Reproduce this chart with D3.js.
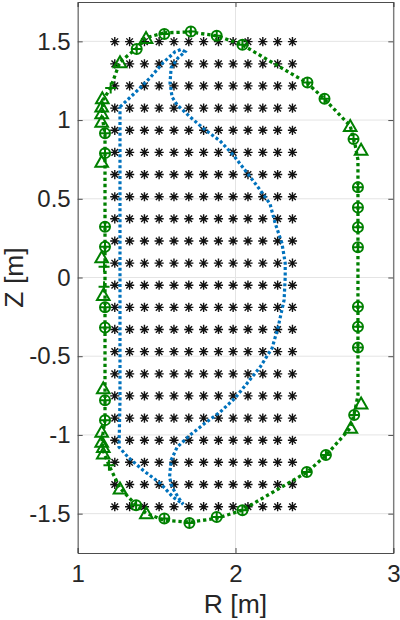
<!DOCTYPE html>
<html>
<head>
<meta charset="utf-8">
<script src="https://cdn.jsdelivr.net/npm/d3@7"></script>
<style>
body { margin: 0; background: #fff; }
svg text { font-family: "Liberation Sans", Arial, Helvetica, sans-serif; fill: #262626; }
</style>
</head>
<body>
<svg id="chart" width="400" height="620"></svg>
<script>
// grid of reconstruction points (R, Z)
var gridR = [1.235, 1.329, 1.423, 1.516, 1.610, 1.704, 1.798, 1.892, 1.985, 2.079, 2.173, 2.267, 2.361];
var gridZ = [1.498, 1.357, 1.217, 1.076, 0.935, 0.795, 0.654, 0.513, 0.373, 0.232, 0.091,
             -0.049, -0.190, -0.330, -0.471, -0.612, -0.752, -0.893, -1.034, -1.174, -1.315, -1.456];

// first wall contour
var wallR = [1.547, 1.712, 1.883, 2.042, 2.454, 2.562, 2.727, 2.758, 2.776, 2.776, 2.758, 2.727, 2.575, 2.454,
             2.042, 1.883, 1.712, 1.547, 1.433, 1.370, 1.268, 1.198, 1.160, 1.154, 1.173, 1.173, 1.154, 1.160,
             1.205, 1.268, 1.370, 1.433, 1.547];
var wallZ = [1.554, 1.560, 1.535, 1.478, 1.236, 1.135, 0.963, 0.842, 0.747, -0.747, -0.842, -0.957, -1.128, -1.236,
             -1.478, -1.529, -1.554, -1.542, -1.497, -1.446, -1.338, -1.192, -1.097, -1.033, -0.906, 0.906, 1.033, 1.128,
             1.198, 1.370, 1.453, 1.523, 1.554];

// plasma boundary
var lcfsR = [1.268, 1.363, 1.458, 1.541, 1.617, 1.655, 1.680, 1.636, 1.592, 1.585, 1.598, 1.630, 1.712, 1.807,
             1.902, 1.985, 2.074, 2.156, 2.219, 2.251, 2.294, 2.315, 2.315, 2.308, 2.270, 2.232, 2.156, 2.074,
             1.997, 1.902, 1.807, 1.712, 1.630, 1.592, 1.582, 1.598, 1.636, 1.668, 1.604, 1.522, 1.414, 1.319,
             1.262, 1.268, 1.268];
var lcfsZ = [1.084, 1.173, 1.268, 1.364, 1.434, 1.449, 1.434, 1.395, 1.332, 1.236, 1.147, 1.097, 1.020, 0.938,
             0.868, 0.779, 0.664, 0.556, 0.467, 0.346, 0.219, 0.092, 0.003, -0.143, -0.315, -0.448, -0.569, -0.671,
             -0.766, -0.855, -0.925, -1.001, -1.078, -1.160, -1.268, -1.332, -1.395, -1.440, -1.395, -1.306, -1.224, -1.141,
             -1.078, -0.779, 1.084];

// flux loops
var loopR = [1.374, 1.549, 1.717, 1.881, 2.044, 2.456, 2.564, 2.748, 2.776, 2.776, 2.776, 2.776, 2.776, 2.776,
             2.776, 2.752, 2.573, 2.452, 2.044, 1.881, 1.708, 1.549, 1.370,
             1.173, 1.173, 1.173, 1.173, 1.173, 1.173, 1.173, 1.173];
var loopZ = [1.451, 1.546, 1.563, 1.535, 1.478, 1.238, 1.135, 0.879, 0.573, 0.444, 0.319, 0.192, -0.186, -0.313,
             -0.444, -0.874, -1.128, -1.235, -1.478, -1.521, -1.559, -1.531, -1.446,
             0.917, 0.790, 0.323, 0.196, -0.189, -0.317, -0.779, -0.906];

// magnetic probes
var probeR = [1.433, 1.268, 1.156, 1.152, 1.152, 1.152, 1.152, 1.152, 1.162, 1.162, 1.152, 1.152, 1.162, 1.162,
              1.268, 1.435, 2.727, 2.796, 2.796, 2.731];
var probeZ = [1.521, 1.367, 1.139, 1.086, 1.044, 0.990, 0.736, 0.128, -0.111, -0.704, -0.980, -1.044, -1.076, -1.118,
              -1.340, -1.497, 0.963, 0.811, -0.800, -0.955];

// saddle coils
var saddleR = [1.209, 1.167, 1.167, 1.198];
var saddleZ = [1.203, 0.069, -0.058, -1.192];

var xTicks = [1, 2, 3];
var yTicks = [-1.5, -1, -0.5, 0, 0.5, 1, 1.5];

var green = '#008000', blue = '#0072BD', axisColor = '#4d4d4d';

var svg = d3.select('#chart');
var x = d3.scaleLinear().domain([1, 3]).range([77.7, 393.3]);
var y = d3.scaleLinear().domain([-1.75, 1.75]).range([553, 2]);

// grid lines
svg.append('g').selectAll('line').data(xTicks).enter().append('line')
    .attr('x1', function(d) { return x(d); }).attr('x2', function(d) { return x(d); })
    .attr('y1', y(1.75)).attr('y2', y(-1.75))
    .attr('stroke', '#e4e4e4').attr('stroke-width', 1);
svg.append('g').selectAll('line').data(yTicks).enter().append('line')
    .attr('y1', function(d) { return y(d); }).attr('y2', function(d) { return y(d); })
    .attr('x1', x(1)).attr('x2', x(3))
    .attr('stroke', '#e4e4e4').attr('stroke-width', 1);

// points of the grid
var pts = [];
gridZ.forEach(function(z) { gridR.forEach(function(r) { pts.push([r, z]); }); });
var star = 'M-4.6,0H4.6M0,-4.6V4.6M-3.3,-3.3L3.3,3.3M-3.3,3.3L3.3,-3.3';
svg.append('g').selectAll('path').data(pts).enter().append('path')
    .attr('d', star)
    .attr('transform', function(d) { return 'translate(' + x(d[0]) + ',' + y(d[1]) + ')'; })
    .attr('stroke', '#111').attr('stroke-width', 1.4).attr('fill', 'none');

var line = d3.line()
    .x(function(d) { return x(d[0]); })
    .y(function(d) { return y(d[1]); });

// plasma boundary
svg.append('path')
    .datum(d3.zip(lcfsR, lcfsZ))
    .attr('d', line)
    .attr('fill', 'none').attr('stroke', blue)
    .attr('stroke-width', 3.2).attr('stroke-dasharray', '3,2.4');

// wall
svg.append('path')
    .datum(d3.zip(wallR, wallZ))
    .attr('d', line)
    .attr('fill', 'none').attr('stroke', green)
    .attr('stroke-width', 3.3).attr('stroke-dasharray', '3.3,2.9');

// markers
var gLoops = svg.append('g').selectAll('g').data(d3.zip(loopR, loopZ)).enter().append('g')
    .attr('transform', function(d) { return 'translate(' + x(d[0]) + ',' + y(d[1]) + ')'; });
gLoops.append('circle').attr('r', 5)
    .attr('fill', 'none').attr('stroke', green).attr('stroke-width', 2);
gLoops.append('path').attr('d', 'M-5,0H5M0,-5V5')
    .attr('fill', 'none').attr('stroke', green).attr('stroke-width', 2);

svg.append('g').selectAll('path').data(d3.zip(probeR, probeZ)).enter().append('path')
    .attr('d', 'M0,-6L6.3,5H-6.3Z')
    .attr('transform', function(d) { return 'translate(' + x(d[0]) + ',' + y(d[1]) + ')'; })
    .attr('fill', 'none').attr('stroke', green).attr('stroke-width', 2);

svg.append('g').selectAll('path').data(d3.zip(saddleR, saddleZ)).enter().append('path')
    .attr('d', 'M-5.5,0H5.5M0,-5.5V5.5')
    .attr('transform', function(d) { return 'translate(' + x(d[0]) + ',' + y(d[1]) + ')'; })
    .attr('fill', 'none').attr('stroke', green).attr('stroke-width', 2);

// axes (ticks inside, box on)
var fmt = function(d) { return String(d); };
var axB = svg.append('g').attr('transform', 'translate(0,553)')
    .call(d3.axisBottom(x).tickValues(xTicks).tickSize(-5).tickPadding(12).tickFormat(fmt));
var axT = svg.append('g').attr('transform', 'translate(0,2)')
    .call(d3.axisTop(x).tickValues(xTicks).tickSize(-5).tickFormat(''));
var axL = svg.append('g').attr('transform', 'translate(77.7,0)')
    .call(d3.axisLeft(y).tickValues(yTicks).tickSize(-5).tickPadding(7).tickFormat(fmt));
var axR = svg.append('g').attr('transform', 'translate(393.3,0)')
    .call(d3.axisRight(y).tickValues(yTicks).tickSize(-5).tickFormat(''));

[axB, axT, axL, axR].forEach(function(a) {
    a.select('.domain').attr('stroke', axisColor);
    a.selectAll('.tick line').attr('stroke', axisColor);
    a.selectAll('.tick text').attr('fill', '#262626').style('font-size', '24px')
        .style('font-family', '"Liberation Sans", Arial, sans-serif');
});

svg.append('text')
    .attr('x', (x(1) + x(3)) / 2).attr('y', 613)
    .attr('text-anchor', 'middle').style('font-size', '26.5px')
    .text('R [m]');
svg.append('text')
    .attr('transform', 'translate(23,' + ((y(1.75) + y(-1.75)) / 2) + ') rotate(-90)')
    .attr('text-anchor', 'middle').style('font-size', '26.5px')
    .text('Z [m]');
</script>
</body>
</html>
